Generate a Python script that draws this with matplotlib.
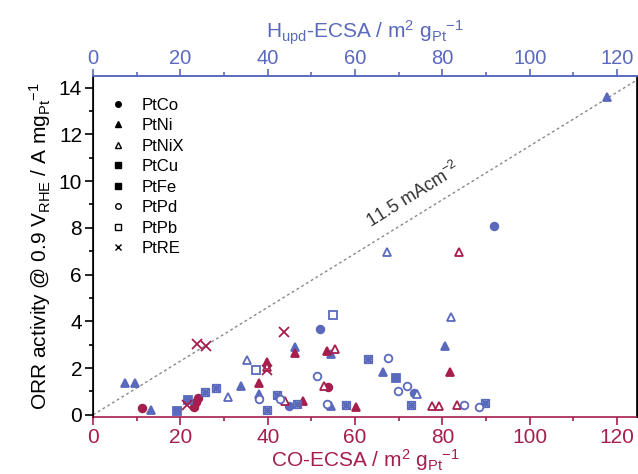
import numpy as np
import matplotlib
matplotlib.use("Agg")
import matplotlib.pyplot as plt
from matplotlib.lines import Line2D

plt.rcParams['font.family'] = ['Liberation Sans', 'DejaVu Sans']
plt.rcParams['mathtext.fontset'] = 'custom'
plt.rcParams['mathtext.rm'] = 'Liberation Sans'
plt.rcParams['mathtext.it'] = 'Liberation Sans'
plt.rcParams['mathtext.default'] = 'regular'

BLUE = '#5b69bd'
RED = '#a61e4d'

# (ECSA, activity) pairs; blue = Hupd-ECSA, red = CO-ECSA
ptco_h_x = [44.8, 51.9, 73.5, 91.8]
ptco_h_y = [0.36, 3.67, 0.95, 8.08]
ptco_co_x = [11.3, 23.2, 23.6, 24.0, 53.9]
ptco_co_y = [0.30, 0.35, 0.55, 0.70, 1.17]

ptni_h_x = [7.4, 9.5, 13.2, 33.9, 38.1, 46.2, 54.5, 54.5, 66.5, 80.6, 117.8]
ptni_h_y = [1.38, 1.38, 0.21, 1.21, 0.90, 2.90, 2.60, 0.36, 1.81, 2.96, 13.6]
ptni_co_x = [37.9, 39.8, 46.2, 48.1, 53.6, 60.1, 81.7]
ptni_co_y = [1.34, 2.24, 2.65, 0.61, 2.71, 0.33, 1.82]

ptnix_h_x = [31.0, 35.2, 67.4, 74.1, 82.0]
ptnix_h_y = [0.78, 2.35, 6.98, 0.87, 4.20]
ptnix_co_x = [39.8, 44.0, 52.8, 55.4, 77.5, 79.2, 83.3, 83.8]
ptnix_co_y = [2.05, 0.58, 1.25, 2.80, 0.38, 0.38, 0.40, 6.98]

ptcu_h_x = [25.7, 28.1, 39.8, 42.0, 46.6, 58.0, 62.9, 72.9, 89.8]
ptcu_h_y = [0.96, 1.16, 0.20, 0.85, 0.46, 0.42, 2.37, 0.40, 0.50]

ptfe_h_x = [19.1, 21.8, 69.4]
ptfe_h_y = [0.17, 0.64, 1.58]

ptpd_h_x = [38.1, 42.7, 51.3, 53.5, 67.5, 69.9, 71.9, 84.9, 88.4]
ptpd_h_y = [0.67, 0.67, 1.68, 0.46, 2.44, 1.02, 1.22, 0.40, 0.32]

ptpb_h_x = [37.2, 55.0]
ptpb_h_y = [1.90, 4.27]

ptre_co_x = [21.6, 23.9, 25.8, 39.8, 43.8]
ptre_co_y = [0.43, 3.02, 2.96, 1.92, 3.56]

slope = 0.115  # 11.5 mA cm^-2 -> A mg^-1 per m^2 g^-1


def pts(ax, x, y, marker, color, filled=True, size=5.5):
    fc = color if filled else 'white'
    ax.plot(x, y, linestyle='none', marker=marker, markersize=size,
            markerfacecolor=fc, markeredgecolor=color, markeredgewidth=1.3,
            zorder=3)


def cu(ax, x, y, color):
    ax.plot(x, y, linestyle='none', marker='s', markersize=6,
            markerfacecolor='none', markeredgecolor=color, markeredgewidth=0.9, zorder=3)
    ax.plot(x, y, linestyle='none', marker=(8, 2, 0), markersize=6.5,
            markeredgecolor=color, markeredgewidth=1.2, zorder=3)


fig = plt.figure(figsize=(6.38, 4.74), dpi=100)
ax = fig.add_axes([0.146, 0.120, 0.852, 0.720])

xline = np.array([0, 130])
ax.plot(xline, slope * xline, linestyle=(0, (2, 2)), color='#888888', lw=1.0, zorder=1)
ax.text(74.5, slope * 74.5 + 0.45, '11.5 mAcm$^{-2}$', rotation=31.8,
        rotation_mode='anchor', ha='center', va='bottom', fontsize=13, color='#333333')

pts(ax, ptco_h_x, ptco_h_y, 'o', BLUE)
pts(ax, ptco_co_x, ptco_co_y, 'o', RED)
pts(ax, ptni_h_x, ptni_h_y, '^', BLUE)
pts(ax, ptni_co_x, ptni_co_y, '^', RED)
pts(ax, ptnix_h_x, ptnix_h_y, '^', BLUE, filled=False)
pts(ax, ptnix_co_x, ptnix_co_y, '^', RED, filled=False)
cu(ax, ptcu_h_x, ptcu_h_y, BLUE)
pts(ax, ptfe_h_x, ptfe_h_y, 's', BLUE)
pts(ax, ptpd_h_x, ptpd_h_y, 'o', BLUE, filled=False)
pts(ax, ptpb_h_x, ptpb_h_y, 's', BLUE, filled=False)
pts(ax, ptre_co_x, ptre_co_y, 'x', RED, size=7)

ax.set_xlim(0, 124.5)
ax.set_ylim(-0.1, 14.5)
ax.set_xticks(np.arange(0, 121, 20))
ax.set_xticks(np.arange(10, 121, 20), minor=True)
ax.set_yticks(np.arange(0, 15, 2))
ax.set_yticks(np.arange(1, 15, 2), minor=True)

ax.spines['bottom'].set_color(RED)
ax.spines['bottom'].set_linewidth(1.2)
ax.spines['top'].set_color(BLUE)
ax.spines['top'].set_linewidth(1.2)
ax.spines['left'].set_linewidth(1.2)
ax.spines['right'].set_linewidth(1.2)
ax.tick_params(axis='x', which='both', colors=RED, labelsize=15, direction='out', pad=2)
ax.tick_params(axis='x', which='major', length=6, width=1.2)
ax.tick_params(axis='x', which='minor', length=3, width=1.2)
ax.tick_params(axis='y', which='both', labelsize=15, direction='out', right=True, pad=2)
ax.tick_params(axis='y', which='major', length=6, width=1.2)
ax.tick_params(axis='y', which='minor', length=3, width=1.2)
ax.set_xlabel('CO-ECSA / m$^2$ g$_{Pt}$$^{-1}$', color=RED, fontsize=15, labelpad=0)
ax.set_ylabel('ORR activity @ 0.9 V$_{RHE}$ / A mg$_{Pt}$$^{-1}$', fontsize=15, labelpad=4)

top = ax.twiny()
top.set_xlim(ax.get_xlim())
top.set_xticks(np.arange(0, 121, 20))
top.set_xticks(np.arange(10, 121, 20), minor=True)
top.tick_params(axis='x', which='both', colors=BLUE, labelsize=14.5, direction='out', pad=1)
top.tick_params(axis='x', which='major', length=5, width=1.2)
top.tick_params(axis='x', which='minor', length=3, width=1.2)
top.spines['top'].set_color(BLUE)
top.spines['top'].set_linewidth(1.2)
top.spines['bottom'].set_visible(False)
top.set_xlabel('H$_{upd}$-ECSA / m$^2$ g$_{Pt}$$^{-1}$', color=BLUE, fontsize=15, labelpad=7)

labels = ['PtCo', 'PtNi', 'PtNiX', 'PtCu', 'PtFe', 'PtPd', 'PtPb', 'PtRE']
kw = dict(linestyle='none', color='black', markeredgecolor='black', markersize=4)
cu_handle = (Line2D([], [], marker='s', markerfacecolor='none', **kw),
             Line2D([], [], marker=(8, 2, 0), **kw))
handles = [
    Line2D([], [], marker='o', **kw),
    Line2D([], [], marker='^', **kw),
    Line2D([], [], marker='^', markerfacecolor='white', **kw),
    cu_handle,
    Line2D([], [], marker='s', **kw),
    Line2D([], [], marker='o', markerfacecolor='white', **kw),
    Line2D([], [], marker='s', markerfacecolor='white', **kw),
    Line2D([], [], marker='x', **kw),
]
ax.legend(handles, labels, loc='upper left', bbox_to_anchor=(0.0, 0.98), frameon=False,
          fontsize=12, handlelength=1.2, handletextpad=0.8, labelspacing=0.33)

fig.savefig('out.png', dpi=100)
